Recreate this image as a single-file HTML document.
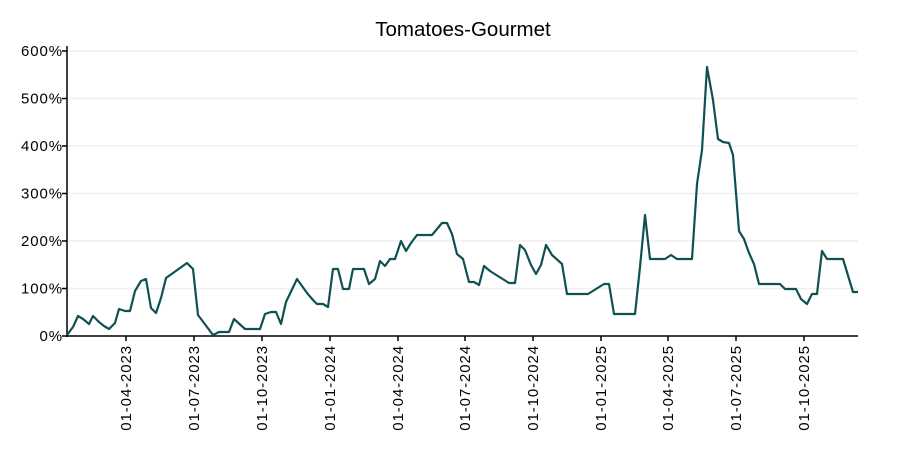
<!DOCTYPE html>
<html><head><meta charset="utf-8"><style>body{margin:0;background:#fff}svg{display:block}text{font-family:"Liberation Sans",sans-serif;fill:#000}</style></head><body>
<svg width="900" height="450" viewBox="0 0 900 450">
<g stroke="#efefef" stroke-width="1.5">
<line x1="68" x2="858" y1="51" y2="51"/><line x1="68" x2="858" y1="98.5" y2="98.5"/><line x1="68" x2="858" y1="146" y2="146"/><line x1="68" x2="858" y1="193.5" y2="193.5"/><line x1="68" x2="858" y1="241" y2="241"/><line x1="68" x2="858" y1="288.5" y2="288.5"/>
</g>
<text x="463" y="36" font-size="20.5" text-anchor="middle">Tomatoes-Gourmet</text>
<g font-size="15" text-anchor="end" letter-spacing="0.9">
<text x="63" y="56">600%</text><text x="63" y="103.5">500%</text><text x="63" y="151">400%</text><text x="63" y="198.5">300%</text><text x="63" y="246">200%</text><text x="63" y="293.5">100%</text><text x="63" y="341">0%</text>
</g>
<g stroke="#000" stroke-width="1.5">
<line x1="67" y1="46" x2="67" y2="337"/><line x1="66" y1="336" x2="858" y2="336"/>
<line x1="62" x2="67" y1="51" y2="51"/><line x1="62" x2="67" y1="98.5" y2="98.5"/><line x1="62" x2="67" y1="146" y2="146"/><line x1="62" x2="67" y1="193.5" y2="193.5"/><line x1="62" x2="67" y1="241" y2="241"/><line x1="62" x2="67" y1="288.5" y2="288.5"/><line x1="62" x2="67" y1="336" y2="336"/>
<line x1="126" x2="126" y1="336" y2="341"/><line x1="194" x2="194" y1="336" y2="341"/><line x1="262" x2="262" y1="336" y2="341"/><line x1="330" x2="330" y1="336" y2="341"/><line x1="398" x2="398" y1="336" y2="341"/><line x1="465" x2="465" y1="336" y2="341"/><line x1="533" x2="533" y1="336" y2="341"/><line x1="601" x2="601" y1="336" y2="341"/><line x1="668" x2="668" y1="336" y2="341"/><line x1="736" x2="736" y1="336" y2="341"/><line x1="804" x2="804" y1="336" y2="341"/>
</g>
<g font-size="15" text-anchor="end" letter-spacing="0.9">
<text transform="translate(131,345) rotate(-90)">01-04-2023</text>
<text transform="translate(199,345) rotate(-90)">01-07-2023</text>
<text transform="translate(267,345) rotate(-90)">01-10-2023</text>
<text transform="translate(335,345) rotate(-90)">01-01-2024</text>
<text transform="translate(403,345) rotate(-90)">01-04-2024</text>
<text transform="translate(470,345) rotate(-90)">01-07-2024</text>
<text transform="translate(538,345) rotate(-90)">01-10-2024</text>
<text transform="translate(606,345) rotate(-90)">01-01-2025</text>
<text transform="translate(673,345) rotate(-90)">01-04-2025</text>
<text transform="translate(741,345) rotate(-90)">01-07-2025</text>
<text transform="translate(809,345) rotate(-90)">01-10-2025</text>
</g>
<polyline fill="none" stroke="#0f5153" stroke-width="2.2" stroke-linejoin="round" points="67,335 73,327 78,316 83,319 89,324 93,316 99,322 104,326 109,329 115,323 119,309 125,311 130,311 135,291 141,281 146,279 151,308 156,313 161,298 166,278 187,263 193,269 198,315 213,335 219,332 229,332 234,319 245,329 260,329 265,314 271,312 276,312 281,324 286,302 297,279 307,293 313,300 317,304 323,304 328,307 333,269 338,269 343,289 349,289 353,269 364,269 369,284 375,279 380,261 385,266 390,259 395,259 401,241 406,251 411,243 417,235 432,235 442,223 447,223 452,234 457,254 463,259 469,282 474,282 479,285 484,266 490,271 509,283 515,283 520,245 525,250 531,265 536,274 541,265 546,245 552,255 562,264 567,294 588,294 604,284 609,284 614,314 635,314 640,267 645,215 650,259 665,259 671,255 677,259 692,259 697,184 702,150 707,67 713,100 718,139 723,142 729,143 733,155 739,231 744,239 749,253 754,264 759,284 780,284 785,289 796,289 801,299 807,304 812,294 817,294 822,251 827,259 843,259 853,292 858,292"/>
</svg>
</body></html>
